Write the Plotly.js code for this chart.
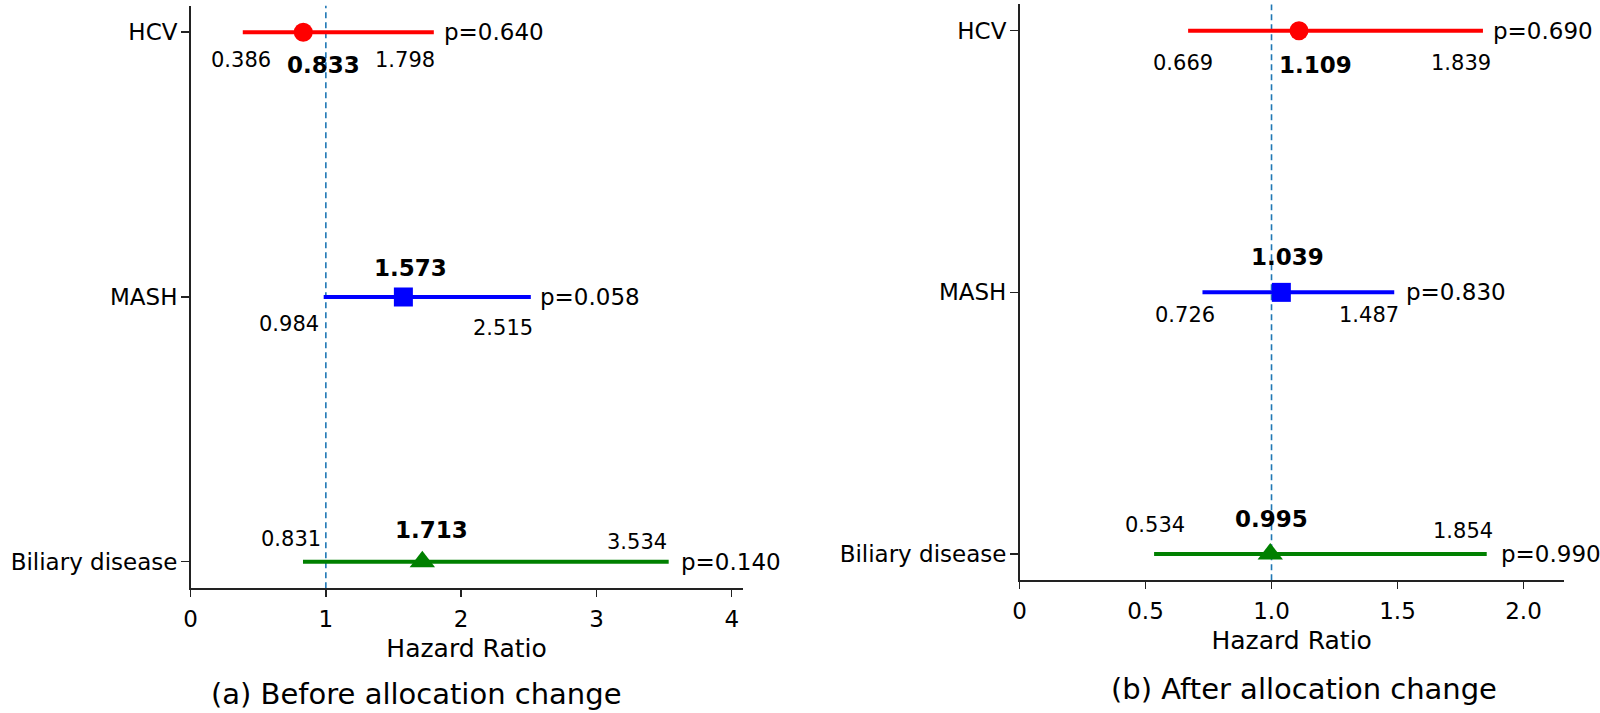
<!DOCTYPE html>
<html>
<head>
<meta charset="utf-8">
<script src="https://cdn.plot.ly/plotly-3.0.1.min.js"></script>
<style>html,body{margin:0;padding:0;background:#fff;}#chart{width:1600px;height:713px;}</style>
</head>
<body>
<div id="chart"></div>
<script>
// ---- data ----
const categories = ['HCV', 'MASH', 'Biliary disease'];
const hrBefore = [0.833, 1.573, 1.713];
const loBefore = [0.386, 0.984, 0.831];
const hiBefore = [1.798, 2.515, 3.534];
const pBefore = ['0.640', '0.058', '0.140'];
const hrAfter = [1.109, 1.039, 0.995];
const loAfter = [0.669, 0.726, 0.534];
const hiAfter = [1.839, 1.487, 1.854];
const pAfter = ['0.690', '0.830', '0.990'];
const xTicksBefore = [0, 1, 2, 3, 4];
const xTickTextBefore = ['0', '1', '2', '3', '4'];
const xTicksAfter = [0, 0.5, 1, 1.5, 2];
const xTickTextAfter = ['0', '0.5', '1.0', '1.5', '2.0'];
const subtitleBefore = '(a) Before allocation change';
const subtitleAfter = '(b) After allocation change';
const axisTitle = 'Hazard Ratio';
const refValue = 1;

// ---- styles ----
const colors = ['#ff0000', '#0000ff', '#008000'];
const symbols = ['circle', 'square', 'triangle-up'];
const markerSizes = [19, 19, 22];
const FONT = 'DejaVu Sans, Verdana, sans-serif';
// label offsets in pixels [dx, dy(down)] relative to the value on the row
const offBefore = {
  lo:  [[-2, 28], [-35, 27], [-12, -23]],
  est: [[20, 33], [7, -29], [9, -32]],
  hi:  [[-29, 28], [-28, 31], [-32, -20]],
  p:   [8, 7, 10]
};
const offAfter = {
  lo:  [[-5, 32], [-17, 23], [1, -29]],
  est: [[17, 34], [6, -35], [1, -35]],
  hi:  [[-22, 32], [-25, 23], [-24, -23]],
  p:   [8, 10, 12]
};

const rowY = categories.map((c, i) => categories.length - 1 - i);

const traces = [];
const annotations = [];

function buildPanel(hr, lo, hi, p, off, xa, ya) {
  categories.forEach((c, i) => {
    traces.push({
      type: 'scatter', mode: 'lines', x: [lo[i], hi[i]], y: [rowY[i], rowY[i]],
      xaxis: xa, yaxis: ya, line: {color: colors[i], width: 4}, hoverinfo: 'skip'
    });
    traces.push({
      type: 'scatter', mode: 'markers', x: [hr[i]], y: [rowY[i]],
      xaxis: xa, yaxis: ya,
      marker: {color: colors[i], symbol: symbols[i], size: markerSizes[i], line: {width: 0}},
      name: c
    });
    const mk = (x, text, o, size, anchor) => ({
      xref: xa, yref: ya, x: x, y: rowY[i], text: text, showarrow: false,
      xanchor: anchor || 'center', yanchor: 'middle', xshift: o[0], yshift: -o[1],
      font: {family: FONT, size: size, color: '#000'}
    });
    annotations.push(mk(lo[i], lo[i].toFixed(3), off.lo[i], 21));
    annotations.push(mk(hr[i], '<b>' + hr[i].toFixed(3) + '</b>', off.est[i], 23));
    annotations.push(mk(hi[i], hi[i].toFixed(3), off.hi[i], 21));
    annotations.push(mk(hi[i], 'p=' + p[i], [off.p[i], 0], 23, 'left'));
  });
}

buildPanel(hrBefore, loBefore, hiBefore, pBefore, offBefore, 'x', 'y');
buildPanel(hrAfter, loAfter, hiAfter, pAfter, offAfter, 'x2', 'y2');

annotations.push({
  xref: 'paper', yref: 'paper', x: 0.2606, y: 0.026, xanchor: 'center', yanchor: 'middle',
  text: subtitleBefore, showarrow: false, font: {family: FONT, size: 29, color: '#000'}
});
annotations.push({
  xref: 'paper', yref: 'paper', x: 0.8150, y: 0.034, xanchor: 'center', yanchor: 'middle',
  text: subtitleAfter, showarrow: false, font: {family: FONT, size: 29, color: '#000'}
});

const xCommon = {
  showline: true, linecolor: '#222', linewidth: 1.5, ticks: 'outside', ticklen: 7,
  tickwidth: 1.5, tickcolor: '#222', showgrid: false, zeroline: false,
  tickfont: {family: FONT, size: 23, color: '#000'}, ticklabelstandoff: 3,
  title: {text: axisTitle, font: {family: FONT, size: 25, color: '#000'}, standoff: 8}
};
const yCommon = {
  showline: true, linecolor: '#222', linewidth: 1.5, ticks: 'outside', ticklen: 8,
  tickwidth: 1.5, tickcolor: '#222', showgrid: false, zeroline: false,
  tickvals: rowY, ticktext: categories, range: [-0.1, 2.1],
  tickfont: {family: FONT, size: 23, color: '#000'}, ticklabelstandoff: -1
};

const layout = {
  width: 1600, height: 713, margin: {l: 0, r: 0, t: 0, b: 0},
  paper_bgcolor: '#fff', plot_bgcolor: '#fff', showlegend: false,
  xaxis: Object.assign({}, xCommon, {domain: [0.1191, 0.4641], range: [0, 4.08], anchor: 'y',
    tickvals: xTicksBefore, ticktext: xTickTextBefore}),
  yaxis: Object.assign({}, yCommon, {domain: [0.175, 0.9919], anchor: 'x'}),
  xaxis2: Object.assign({}, xCommon, {domain: [0.6372, 0.9774], range: [0, 2.16], anchor: 'y2',
    tickvals: xTicksAfter, ticktext: xTickTextAfter}),
  yaxis2: Object.assign({}, yCommon, {domain: [0.1862, 0.9937], anchor: 'x2'}),
  shapes: [
    {type: 'line', xref: 'x', yref: 'y domain', x0: refValue, x1: refValue, y0: 0, y1: 1,
     line: {color: '#1f77b4', width: 1.6, dash: '6px,4px'}, layer: 'below'},
    {type: 'line', xref: 'x2', yref: 'y2 domain', x0: refValue, x1: refValue, y0: 0, y1: 1,
     line: {color: '#1f77b4', width: 1.6, dash: '6px,4px'}, layer: 'below'}
  ],
  annotations: annotations
};

Plotly.newPlot('chart', traces, layout, {displayModeBar: false, staticPlot: true});
</script>
</body>
</html>
